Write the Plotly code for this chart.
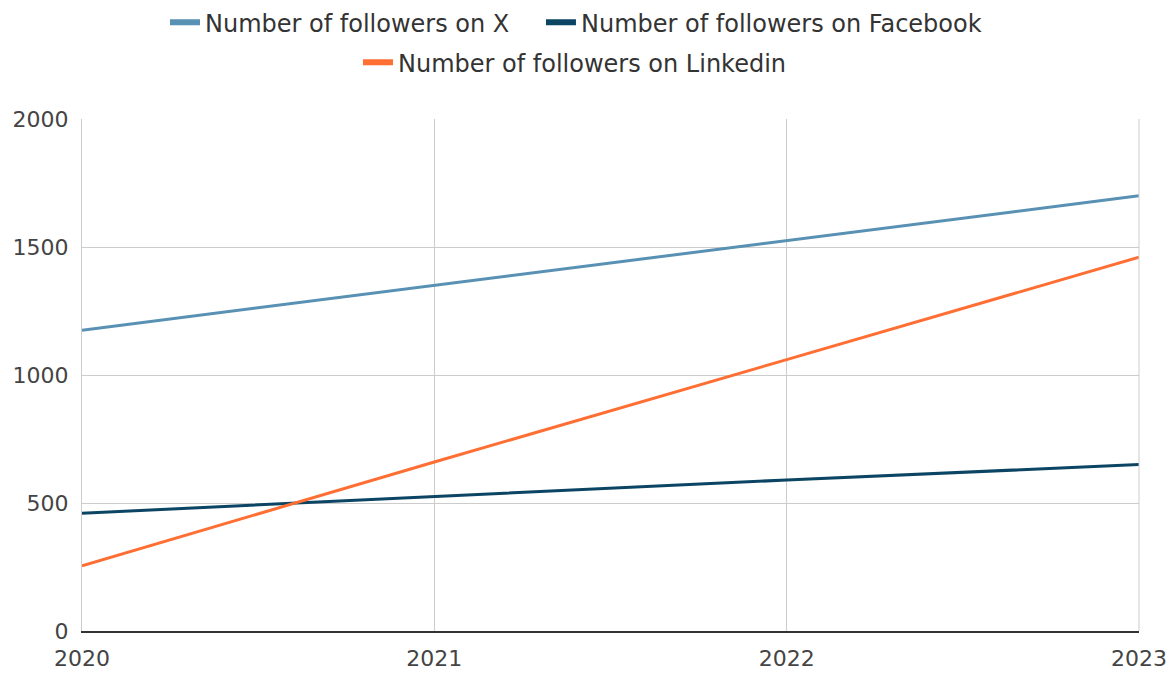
import plotly.graph_objects as go

years = [2020, 2021, 2022, 2023]
followers_x = [1175, 1350, 1525, 1700]
followers_facebook = [460, 525, 590, 650]
followers_linkedin = [255, 660, 1060, 1460]

names = ["Number of followers on X", "Number of followers on Facebook", "Number of followers on Linkedin"]
colors = ["#5891b3", "#0c4564", "#ff6e33"]
series = [followers_x, followers_facebook, followers_linkedin]
legend_ids = ["legend", "legend2", "legend3"]

fig = go.Figure()
for n, c, s in zip(names, colors, series):
    fig.add_trace(go.Scatter(x=years, y=s, mode="lines", name=n,
                             line=dict(color=c, width=3), showlegend=False))
for n, c, lg in zip(names, colors, legend_ids):
    fig.add_trace(go.Scatter(x=[None], y=[None], mode="lines", name=n, legend=lg,
                             line=dict(color=c, width=6), showlegend=True))

font = "DejaVu Sans, Verdana, sans-serif"
leg_common = dict(orientation="h", xanchor="left", yanchor="top", xref="container",
                  yref="paper", font=dict(size=24, color="#333333"),
                  itemwidth=30, tracegroupgap=0, bgcolor="rgba(0,0,0,0)")
fig.update_layout(
    width=1176, height=675,
    margin=dict(l=74, r=45, t=111, b=52, autoexpand=False),
    paper_bgcolor="white", plot_bgcolor="white",
    font=dict(family=font, color="#333333", size=20),
    legend=dict(x=0.1335, y=1.232, **leg_common),
    legend2=dict(x=0.4532, y=1.232, **leg_common),
    legend3=dict(x=0.2976, y=1.154, **leg_common),
    xaxis=dict(range=[2020, 2023], tickvals=years, ticktext=[str(y) for y in years],
               showgrid=True, gridcolor="#cccccc", gridwidth=1,
               showline=True, linecolor="#333333", linewidth=2, automargin=False,
               ticklabelstandoff=7,
               tickfont=dict(size=22, color="#444444"), zeroline=False, ticks="", mirror=False),
    yaxis=dict(range=[0, 2000], tickvals=[0, 500, 1000, 1500, 2000],
               showgrid=True, gridcolor="#cccccc", gridwidth=1, automargin=False,
               showline=True, linecolor="#cccccc", linewidth=1,
               ticklabelstandoff=8,
               tickfont=dict(size=22, color="#444444"), zeroline=False, ticks=""),
)
fig.add_shape(type="line", xref="paper", yref="paper", x0=1, x1=1, y0=0, y1=1,
              line=dict(color="#cccccc", width=1))
fig.write_html("out.html")
